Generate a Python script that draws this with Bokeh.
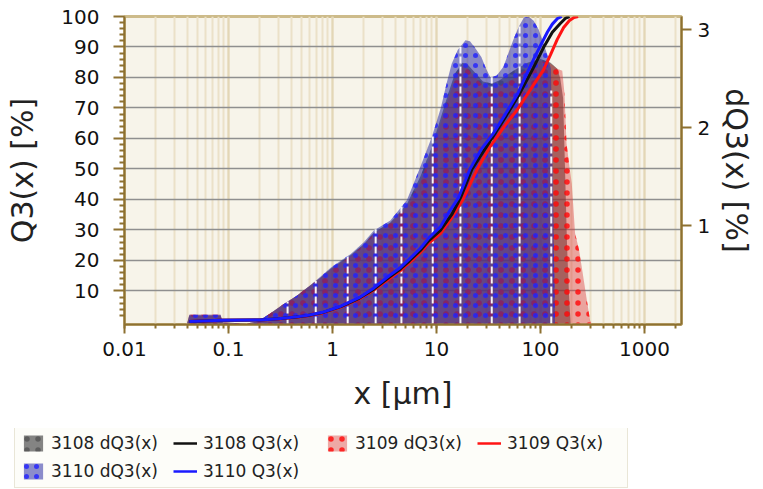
import numpy as np
from bokeh.plotting import figure
from bokeh.layouts import column, row
from bokeh.models import (Range1d, LinearAxis, FixedTicker, Legend, LegendItem,
                          CustomJSTickFormatter)
from bokeh.embed import file_html
from bokeh.resources import INLINE

# ---------------- data ----------------
q3_ticks = [10, 20, 30, 40, 50, 60, 70, 80, 90, 100]
q3_minor = [2, 4, 6, 8, 12, 14, 16, 18, 22, 24, 26, 28, 32, 34, 36, 38, 42, 44, 46, 48,
            52, 54, 56, 58, 62, 64, 66, 68, 72, 74, 76, 78, 82, 84, 86, 88, 92, 94, 96, 98]
dq_ticks = [1, 2, 3]

# dQ3 densities [%]
blue_dq_x = [0.040, 0.042, 0.084, 0.088, 0.15, 0.19, 0.25, 0.34, 0.45, 0.58, 0.75, 0.96,
             1.2, 1.5, 2.0, 2.5, 3.6, 5.2, 7.0, 9.0, 11.0, 12.5, 14.0, 16.0, 19.0, 21.0,
             24.0, 27.0, 30.0, 33.0, 38.0, 44.0, 50.0, 56.0, 62.0, 69.0, 77.0, 86.0, 96.0,
             107.0, 118.0, 126.0, 132.0, 138.0]
blue_dq_y = [0.0, 0.09, 0.09, 0.01, 0.0, 0.02, 0.1, 0.2, 0.28, 0.37, 0.47, 0.57,
             0.64, 0.71, 0.83, 0.95, 1.05, 1.26, 1.6, 1.9, 2.2, 2.45, 2.65, 2.79, 2.89, 2.88,
             2.8, 2.72, 2.6, 2.51, 2.53, 2.62, 2.78, 2.92, 3.03, 3.12, 3.13, 3.09, 3.0,
             2.86, 2.72, 2.6, 1.3, 0.0]

red_dq_x = [0.040, 0.042, 0.084, 0.088, 0.15, 0.19, 0.25, 0.34, 0.45, 0.58, 0.75, 0.96,
            1.2, 1.5, 2.0, 2.5, 3.6, 5.2, 7.0, 9.0, 11.0, 13.0, 15.0, 17.8, 20.0, 24.0,
            28.0, 34.0, 40.0, 55.0, 75.0, 100.0, 125.0, 145.0, 162.0, 170.0, 178.0, 190.0,
            200.0, 215.0, 235.0, 250.0, 280.0, 300.0, 310.0]
red_dq_y = [0.0, 0.09, 0.09, 0.01, 0.0, 0.02, 0.1, 0.2, 0.28, 0.37, 0.46, 0.55,
            0.62, 0.69, 0.8, 0.92, 1.02, 1.2, 1.45, 1.75, 2.05, 2.3, 2.5, 2.63, 2.6, 2.5,
            2.43, 2.4, 2.42, 2.5, 2.6, 2.68, 2.65, 2.6, 2.58, 2.35, 1.84, 1.6,
            1.43, 0.92, 0.75, 0.57, 0.23, 0.03, 0.0]

black_dq_x = [0.040, 0.042, 0.084, 0.088, 0.15, 0.19, 0.25, 0.34, 0.45, 0.58, 0.75, 0.96,
              1.2, 1.5, 2.0, 2.5, 3.6, 5.2, 7.0, 9.0, 11.0, 13.0, 15.0, 17.8, 20.0, 24.0,
              28.0, 34.0, 40.0, 55.0, 75.0, 100.0, 125.0, 145.0, 155.0, 165.0, 172.0,
              180.0, 188.0, 195.0]
black_dq_y = [0.0, 0.08, 0.08, 0.01, 0.0, 0.02, 0.1, 0.2, 0.28, 0.37, 0.46, 0.56,
              0.63, 0.7, 0.81, 0.93, 1.03, 1.22, 1.5, 1.8, 2.1, 2.35, 2.55, 2.66, 2.64, 2.55,
              2.47, 2.45, 2.48, 2.58, 2.66, 2.7, 2.66, 2.6, 2.5, 2.3, 1.6,
              0.8, 0.3, 0.0]

# Q3 cumulative [%]
blue_q_x = [0.042, 0.085, 0.2, 0.3, 0.45, 0.58, 0.8, 1.2, 1.8, 2.5, 3.5, 4.5, 5.5, 7.0,
            8.5, 10.9, 13.0, 16.3, 21.0, 27.0, 35.0, 46.0, 60.0, 71.0, 86.0, 100.0, 117.0,
            130.0, 145.0, 160.0]
blue_q_y = [0.0, 0.4, 0.5, 0.9, 1.5, 2.0, 3.0, 5.0, 7.8, 11.0, 15.0, 17.7, 20.5, 24.0,
            27.5, 31.0, 35.5, 40.6, 50.0, 56.5, 61.5, 68.0, 74.5, 80.0, 86.0, 90.5, 95.0,
            97.5, 99.3, 100.0]

red_q_x = [0.042, 0.085, 0.2, 0.3, 0.45, 0.58, 0.8, 1.2, 1.8, 2.5, 3.5, 4.5, 5.5, 7.0,
           8.5, 10.9, 14.0, 18.0, 24.7, 33.0, 45.0, 60.0, 80.0, 107.0, 125.0, 145.0, 167.0,
           190.0, 210.0, 230.0]
red_q_y = [0.0, 0.4, 0.5, 0.8, 1.4, 1.9, 2.8, 4.7, 7.4, 10.3, 14.0, 16.7, 19.3, 22.6,
           25.8, 28.8, 34.0, 40.0, 50.0, 57.5, 64.0, 69.5, 76.0, 82.5, 87.5, 92.5, 96.4,
           98.7, 99.7, 100.0]

black_q_x = [0.042, 0.085, 0.2, 0.3, 0.45, 0.58, 0.8, 1.2, 1.8, 2.5, 3.5, 4.5, 5.5, 7.0,
             8.5, 10.9, 14.0, 17.0, 22.0, 33.0, 45.0, 63.0, 85.0, 107.0, 130.0, 155.0,
             175.0, 190.0]
black_q_y = [0.0, 0.4, 0.5, 0.85, 1.45, 1.95, 2.9, 4.85, 7.6, 10.6, 14.5, 17.2, 19.9, 23.3,
             26.6, 29.9, 35.0, 40.5, 50.0, 59.3, 66.5, 74.7, 83.0, 89.8, 94.8, 97.7,
             99.5, 100.0]

# class boundaries shown as white dashed lines inside the distribution
class_x = [0.37, 0.69, 1.4, 2.6, 4.6, 9.2, 17.0, 34.0, 63.0, 127.0]

labels = ["3108 dQ3(x)", "3108 Q3(x)", "3109 dQ3(x)", "3109 Q3(x)", "3110 dQ3(x)", "3110 Q3(x)"]

# ---------------- styles ----------------
FONT = "DejaVu Sans"
AXC = "#8d7131"
AREA_STYLE = {
    "black": dict(fill_color="#333333", fill_alpha=0.6, hatch_pattern="dot",
                  hatch_color="#222222", hatch_scale=11, hatch_weight=1.2, hatch_alpha=0.4),
    "red": dict(fill_color="#d83434", fill_alpha=0.42, hatch_pattern="dot",
                hatch_color="#ff1010", hatch_scale=11, hatch_weight=1.3, hatch_alpha=0.85),
    "blue": dict(fill_color="#2e30a6", fill_alpha=0.55, hatch_pattern="dot",
                 hatch_color="#2020ff", hatch_scale=10, hatch_weight=1.3, hatch_alpha=0.8),
}
LINE_COLOR = {"black": "#111111", "red": "#ff1414", "blue": "#1a1aff"}

# ---------------- main figure ----------------
p = figure(frame_width=557, frame_height=308, x_axis_type="log",
           x_range=Range1d(0.01, 2270), y_range=Range1d(-1, 100),
           output_backend="svg", toolbar_location=None,
           min_border_left=124, min_border_right=79, min_border_top=16, min_border_bottom=104,
           background_fill_color="#f7f4ea", border_fill_color="white")
p.extra_y_ranges = {"dq": Range1d(-0.01, 3.133)}

p.outline_line_color = "#cdbb8a"
p.outline_line_width = 3

p.xgrid.grid_line_color = "#e3d7b6"
p.xgrid.grid_line_width = 2
p.xgrid.minor_grid_line_color = "#ebe1c8"
p.xgrid.minor_grid_line_width = 2
p.ygrid.grid_line_color = "#8f8f8f"
p.ygrid.grid_line_width = 1.5


def style_axis(ax, label, standoff):
    ax.axis_label = label
    ax.axis_label_text_font = FONT
    ax.axis_label_text_font_size = "30px"
    ax.axis_label_text_font_style = "normal"
    ax.axis_label_text_color = "#222222"
    ax.axis_label_standoff = standoff
    ax.major_label_text_font = FONT
    ax.major_label_text_font_size = "20px"
    ax.major_label_text_color = "#111111"
    ax.axis_line_color = AXC
    ax.axis_line_width = 2
    ax.major_tick_line_color = AXC
    ax.minor_tick_line_color = AXC
    ax.major_tick_line_width = 2
    ax.minor_tick_line_width = 2
    ax.major_tick_in = 0
    ax.minor_tick_in = 0


xa = p.xaxis[0]
xa.formatter = CustomJSTickFormatter(code="return String(Number(tick.toPrecision(6)));")
style_axis(xa, "x [µm]", 17)
xa.major_label_standoff = 8
xa.major_tick_out = 9
xa.minor_tick_out = 4

ya = p.yaxis[0]
ya.ticker = FixedTicker(ticks=q3_ticks, minor_ticks=q3_minor)
p.ygrid.ticker = FixedTicker(ticks=q3_ticks[:-1])
style_axis(ya, "Q3(x) [%]", 18)
ya.major_label_standoff = 14
ya.major_tick_out = 11
ya.minor_tick_out = 5

ra = LinearAxis(y_range_name="dq", ticker=FixedTicker(ticks=dq_ticks))
style_axis(ra, "dQ3(x) [%]", 6)
ra.major_label_standoff = 6
ra.major_tick_out = 10
ra.minor_tick_line_color = None
p.add_layout(ra, "right")

# distributions
p.varea(x=black_dq_x, y1=0, y2=black_dq_y, y_range_name="dq", **AREA_STYLE["black"])
p.varea(x=red_dq_x, y1=0, y2=red_dq_y, y_range_name="dq", **AREA_STYLE["red"])
p.varea(x=blue_dq_x, y1=0, y2=blue_dq_y, y_range_name="dq", **AREA_STYLE["blue"])

# white dashed class lines up to the blue distribution
tops = np.interp(np.log10(class_x), np.log10(blue_dq_x), blue_dq_y)
p.segment(x0=class_x, y0=[0] * len(class_x), x1=class_x, y1=list(tops), y_range_name="dq",
          line_color="white", line_width=2, line_dash="7 3", line_alpha=0.95)

# cumulative curves
p.line(red_q_x, red_q_y, line_color=LINE_COLOR["red"], line_width=3)
p.line(black_q_x, black_q_y, line_color=LINE_COLOR["black"], line_width=3)
p.line(blue_q_x, blue_q_y, line_color=LINE_COLOR["blue"], line_width=3)

# ---------------- legend strip ----------------
lg = figure(frame_width=640, frame_height=61, output_backend="svg", toolbar_location=None,
            x_range=Range1d(0, 1), y_range=Range1d(0, 1),
            min_border_left=0, min_border_right=0, min_border_top=0, min_border_bottom=0,
            border_fill_color="white", background_fill_color="white")
lg.axis.visible = False
lg.grid.visible = False
lg.outline_line_color = None

leg_items = []
for key, i in (("black", 0), ("red", 2), ("blue", 4)):
    # renderers placed outside the visible range; they only feed the legend swatches
    ar = lg.varea(x=[2, 3], y1=[0, 0], y2=[1, 1], **AREA_STYLE[key])
    ln = lg.line(x=[2, 3], y=[0, 0], line_color=LINE_COLOR[key], line_width=2.5)
    leg_items.append(LegendItem(label=labels[i], renderers=[ar]))
    leg_items.append(LegendItem(label=labels[i + 1], renderers=[ln]))

legend = Legend(items=leg_items, orientation="horizontal", ncols=4, nrows=2,
                location=(14, 1))
legend.label_text_font = FONT
legend.label_text_font_size = "17px"
legend.label_text_color = "#222222"
legend.glyph_width = 24
legend.glyph_height = 20
legend.label_standoff = 6
legend.label_width = 114
legend.spacing = 8
legend.padding = 6
legend.margin = 0
legend.border_line_color = "#d6cfb6"
legend.border_line_width = 1
legend.background_fill_color = "#fdfdf9"
legend.background_fill_alpha = 1.0
lg.add_layout(legend, "center")

layout = column(p, row(lg), spacing=0)
open("out.html", "w").write(file_html(layout, INLINE))
